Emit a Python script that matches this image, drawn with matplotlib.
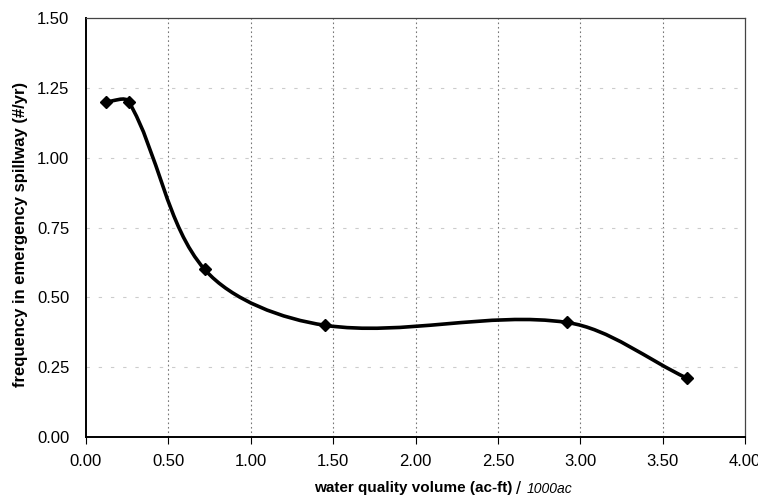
import matplotlib
matplotlib.use("Agg")
import matplotlib.pyplot as plt
from matplotlib.path import Path
from matplotlib.patches import PathPatch
import numpy as np

plt.rcParams['font.family'] = ['Liberation Sans', 'DejaVu Sans']

# data
volume = [0.12, 0.26, 0.72, 1.45, 2.92, 3.65]
frequency = [1.20, 1.20, 0.60, 0.40, 0.41, 0.21]
x_ticks = [0.0, 0.5, 1.0, 1.5, 2.0, 2.5, 3.0, 3.5, 4.0]
y_ticks = [0.0, 0.25, 0.5, 0.75, 1.0, 1.25, 1.5]


def smooth_path(ax, xs, ys):
    # smoothed line: bezier segments, tangents scaled by chord length (in screen space)
    pts = ax.transData.transform(np.column_stack([xs, ys]))
    n = len(pts)
    d = np.linalg.norm(np.diff(pts, axis=0), axis=1)
    tang = np.zeros_like(pts)
    for i in range(n):
        if i == 0:
            tang[i] = (pts[1] - pts[0]) / d[0]
        elif i == n - 1:
            tang[i] = (pts[-1] - pts[-2]) / d[-1]
        else:
            tang[i] = (pts[i + 1] - pts[i - 1]) / (d[i - 1] + d[i])
    verts = [pts[0]]
    codes = [Path.MOVETO]
    for i in range(n - 1):
        c1 = pts[i] + tang[i] * d[i] / 3.0
        c2 = pts[i + 1] - tang[i + 1] * d[i] / 3.0
        verts += [c1, c2, pts[i + 1]]
        codes += [Path.CURVE4] * 3
    verts = ax.transData.inverted().transform(np.array(verts))
    return Path(verts, codes)


fig = plt.figure(figsize=(7.58, 5.0), dpi=100)
ax = fig.add_axes([86 / 758, 63 / 500, 659 / 758, 419 / 500])
ax.set_xlim(0, 4)
ax.set_ylim(0, 1.5)

for x in x_ticks[1:-1]:
    ax.axvline(x, color='#777777', lw=0.8, ls=(0, (1.5, 2.5)), zorder=1)
for y in y_ticks[1:-1]:
    ax.axhline(y, color='#cccccc', lw=0.8, ls=(0, (3, 8)), zorder=1)

patch = PathPatch(smooth_path(ax, volume, frequency), facecolor='none',
                  edgecolor='black', lw=2.6, zorder=3)
ax.add_patch(patch)
ax.plot(volume, frequency, ls='none', marker='D', ms=6.5, color='black', zorder=4)

ax.set_xticks(x_ticks)
ax.set_yticks(y_ticks)
ax.set_xticklabels([f"{v:.2f}" for v in x_ticks], fontsize=12)
ax.set_yticklabels([f"{v:.2f}" for v in y_ticks], fontsize=12)
ax.tick_params(axis='x', direction='out', length=5, pad=7, width=0.8)
ax.tick_params(axis='y', length=0, pad=12)

for side in ['left', 'bottom']:
    ax.spines[side].set_linewidth(1.4)
for side in ['top', 'right']:
    ax.spines[side].set_linewidth(0.9)
    ax.spines[side].set_color('#444444')

fig.text(21 / 758, 1 - 234 / 500, "frequency in emergency spillway (#/yr)",
         rotation=90, ha='center', va='center', fontsize=12, fontweight='bold')
fig.text(413 / 758, 1 - 488 / 500, "water quality volume (ac-ft)",
         ha='center', va='center', fontsize=11, fontweight='bold')
fig.text(516 / 758, 1 - 489 / 500, "/",
         ha='left', va='center', fontsize=13)
fig.text(527 / 758, 1 - 489 / 500, "1000ac",
         ha='left', va='center', fontsize=10, style='italic')

fig.savefig("out.png", dpi=100)
